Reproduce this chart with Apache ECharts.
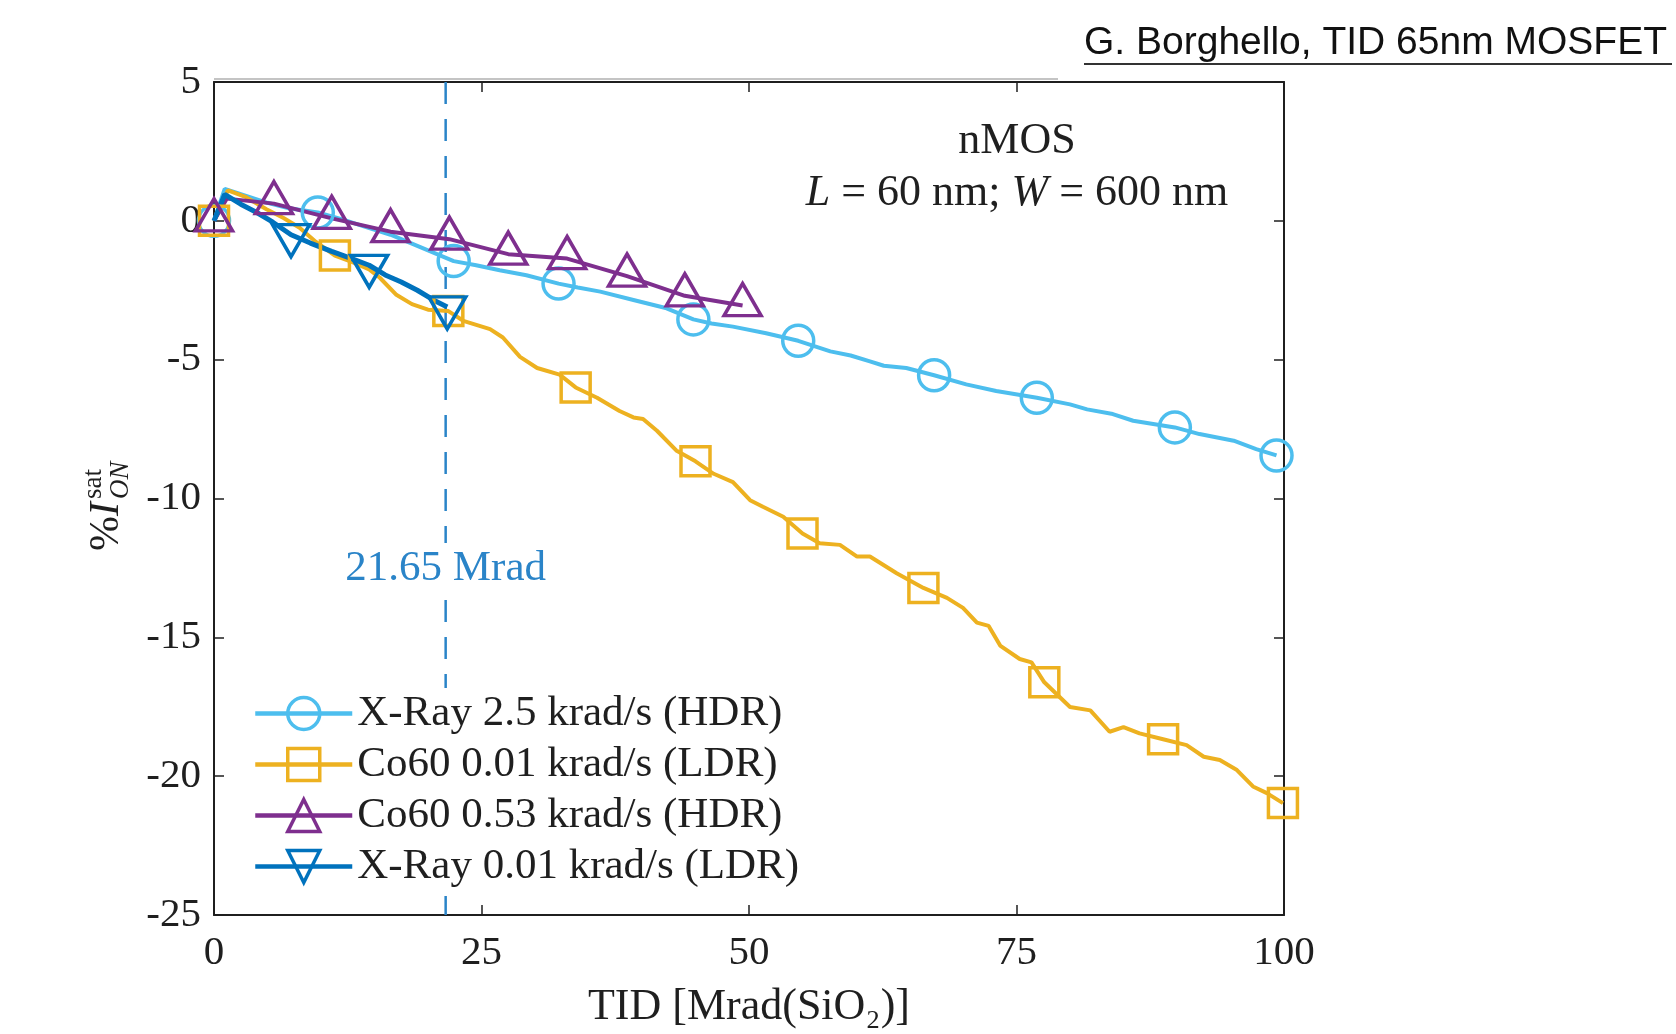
<!DOCTYPE html>
<html>
<head>
<meta charset="utf-8">
<script src="https://cdn.jsdelivr.net/npm/echarts@6/dist/echarts.min.js"></script>
<style>
html,body{margin:0;padding:0;background:#fff;}
#c{width:1676px;height:1034px;}
</style>
</head>
<body>
<div id="c"></div>
<script>
// ---------------- data ----------------
const seriesNames = [
  'X-Ray 2.5 krad/s (HDR)',
  'Co60 0.01 krad/s (LDR)',
  'Co60 0.53 krad/s (HDR)',
  'X-Ray 0.01 krad/s (LDR)'
];
const xTicks = [0, 25, 50, 75, 100];
const yTicks = [-25, -20, -15, -10, -5, 0, 5];

// X-Ray 2.5 krad/s (HDR)
const xrayHdrCurve = [[0,0],[1,1.15],[3,0.9],[5,0.65],[7,0.45],[9.7,0.3],[12,0.05],[14,-0.2],[16.5,-0.5],[19,-0.9],[22.4,-1.45],[24.5,-1.6],[26.7,-1.78],[29.2,-1.96],[32.2,-2.26],[34,-2.4],[36.1,-2.55],[39.2,-2.85],[42.3,-3.15],[44.8,-3.55],[46.5,-3.7],[48.5,-3.81],[51.6,-4.05],[54.6,-4.32],[57.6,-4.7],[59.5,-4.85],[61.3,-5.06],[62.6,-5.22],[64.7,-5.3],[67.3,-5.56],[70.3,-5.89],[73.1,-6.13],[76.9,-6.37],[80,-6.61],[81.6,-6.79],[84,-6.96],[85.9,-7.2],[89.8,-7.44],[92.1,-7.68],[95.3,-7.92],[97.4,-8.22],[99.3,-8.45]];
const xrayHdrMarkers = [[0,0],[9.7,0.3],[22.4,-1.45],[32.2,-2.26],[44.8,-3.55],[54.6,-4.32],[67.3,-5.56],[76.9,-6.37],[89.8,-7.44],[99.3,-8.45]];

// Co60 0.01 krad/s (LDR)
const co60LdrCurve = [[0,0],[1.3,1.1],[3,0.85],[4.9,0.42],[6.5,0.1],[8,-0.25],[9.5,-0.75],[11.3,-1.25],[13,-1.5],[14.5,-1.75],[15.5,-2.05],[17,-2.65],[18.5,-3.0],[20,-3.2],[21.9,-3.25],[23.3,-3.6],[25.8,-3.9],[27,-4.2],[28.6,-4.9],[30.2,-5.3],[32.3,-5.54],[33.8,-6.0],[35.8,-6.37],[37.9,-6.85],[39.2,-7.08],[40.1,-7.14],[41.4,-7.56],[43.2,-8.27],[45,-8.66],[46.7,-9.11],[48.5,-9.41],[50.1,-10.06],[51.3,-10.3],[53.2,-10.66],[55,-11.26],[56.6,-11.61],[58.5,-11.67],[60.1,-12.09],[61.3,-12.09],[63.8,-12.69],[66.3,-13.22],[68.5,-13.58],[70,-13.94],[71.3,-14.47],[72.4,-14.59],[73.5,-15.31],[75.3,-15.78],[76.4,-15.9],[77.6,-16.62],[80,-17.51],[81.9,-17.63],[83.7,-18.4],[85,-18.23],[86.5,-18.46],[88.7,-18.67],[90.9,-18.88],[92.5,-19.3],[94,-19.42],[95.6,-19.78],[97.1,-20.37],[98.4,-20.61],[99.9,-20.97]];
const co60LdrMarkers = [[0,0],[11.3,-1.25],[21.9,-3.25],[33.8,-6.0],[45,-8.66],[55,-11.26],[66.3,-13.22],[77.6,-16.62],[88.7,-18.67],[99.9,-20.97]];

// Co60 0.53 krad/s (HDR)
const co60HdrCurve = [[0,0],[1.2,0.8],[5.6,0.62],[11,0.09],[16.5,-0.39],[22,-0.66],[27.5,-1.2],[33,-1.36],[38.6,-1.99],[44,-2.7],[49.4,-3.05]];
const co60HdrMarkers = [[0,0],[5.6,0.62],[11,0.09],[16.5,-0.39],[22,-0.66],[27.5,-1.2],[33,-1.36],[38.6,-1.99],[44,-2.7],[49.4,-3.05]];

// X-Ray 0.01 krad/s (LDR)
const xrayLdrCurve = [[0,0],[1,0.95],[2.5,0.6],[4,0.3],[5.5,-0.05],[7.2,-0.5],[9,-0.8],[11,-1.1],[12.8,-1.35],[14.5,-1.6],[16,-1.95],[17.5,-2.2],[19,-2.5],[20.5,-2.85],[21.8,-3.1]];
const xrayLdrMarkers = [[7.2,-0.5],[14.5,-1.6],[21.8,-3.1]];

const doseLineX = 21.65;
const doseLabelY = -12.52;
const doseLabelText = '21.65 Mrad';

// ---------------- style ----------------
const colors = ['#4DBEEE', '#EDB120', '#7E2F8E', '#0072BD'];
const symbols = ['circle', 'rect', 'triangle', 'triangle'];
const symbolSizes = [31, 29, [37, 32], [37, 32]];
const symbolRotates = [0, 0, 0, 180];
const symbolOffsets = [[0,0],[0,0],[0,-6],[0,6]];
const lineWidths = [4, 4, 4, 5];
const curves = [xrayHdrCurve, co60LdrCurve, co60HdrCurve, xrayLdrCurve];
const markers = [xrayHdrMarkers, co60LdrMarkers, co60HdrMarkers, xrayLdrMarkers];

const serif = "'Liberation Serif', 'Times New Roman', serif";
const axisColor = '#1f1f1f';
const doseColor = '#2A84C8';

const chart = echarts.init(document.getElementById('c'), null, {renderer: 'canvas'});

const series = [];
series.push({
  type: 'line', name: '__dose', silent: true,
  data: [[doseLineX, yTicks[yTicks.length-1]], [doseLineX, yTicks[0]]],
  showSymbol: false, symbol: 'none',
  lineStyle: {color: doseColor, width: 2.5, type: [22, 15]},
  z: 1
});
for (let i = 0; i < 4; i++) {
  series.push({
    type: 'line', name: seriesNames[i], data: curves[i],
    showSymbol: false, symbol: symbols[i], symbolSize: symbolSizes[i], symbolRotate: symbolRotates[i],
    lineStyle: {color: colors[i], width: lineWidths[i]},
    itemStyle: {color: 'rgba(0,0,0,0)', borderColor: colors[i], borderWidth: 3.5},
    z: 2
  });
  series.push({
    type: 'scatter', name: seriesNames[i] + ' markers', data: markers[i], clip: false,
    symbol: symbols[i], symbolSize: symbolSizes[i], symbolRotate: symbolRotates[i], symbolOffset: symbolOffsets[i],
    itemStyle: {color: 'rgba(0,0,0,0)', borderColor: colors[i], borderWidth: 3.5, opacity: 1},
    z: 2
  });
}

const baseAxis = {
  type: 'value',
  axisLine: {show: true, onZero: false, lineStyle: {color: axisColor, width: 2}},
  axisTick: {show: true, inside: true, length: 10, lineStyle: {color: axisColor, width: 1.5}},
  splitLine: {show: false}
};

const option = {
  animation: false,
  backgroundColor: '#fff',
  grid: {left: 214, right: 392, top: 82, bottom: 113, containLabel: false},
  xAxis: [
    Object.assign({}, baseAxis, {
      position: 'bottom', min: xTicks[0], max: xTicks[xTicks.length-1], interval: xTicks[1]-xTicks[0],
      axisLabel: {show: true, margin: 18, fontFamily: serif, fontSize: 41, color: axisColor},
      name: 'TID [Mrad(SiO\u2082)]', nameLocation: 'middle', nameGap: 70,
      nameTextStyle: {fontFamily: serif, fontSize: 44, color: axisColor}
    }),
    Object.assign({}, baseAxis, {
      position: 'top', min: xTicks[0], max: xTicks[xTicks.length-1], interval: xTicks[1]-xTicks[0],
      axisLabel: {show: false}
    })
  ],
  yAxis: [
    Object.assign({}, baseAxis, {
      position: 'left', min: yTicks[0], max: yTicks[yTicks.length-1], interval: yTicks[1]-yTicks[0],
      axisLabel: {show: true, margin: 13, fontFamily: serif, fontSize: 41, color: axisColor}
    }),
    Object.assign({}, baseAxis, {
      position: 'right', min: yTicks[0], max: yTicks[yTicks.length-1], interval: yTicks[1]-yTicks[0],
      axisLabel: {show: false}
    })
  ],
  legend: {
    orient: 'vertical', left: 248, top: 688, padding: [4, 10, 4, 5],
    backgroundColor: '#fff', itemWidth: 97, itemHeight: 40, itemGap: 8,
    selectedMode: false, align: 'left',
    textStyle: {fontFamily: serif, fontSize: 43, color: axisColor},
    lineStyle: {width: 4.5},
    data: seriesNames.map((n, i) => ({
      name: n,
      itemStyle: {color: 'rgba(0,0,0,0)', borderColor: colors[i], borderWidth: 3.5}
    }))
  },
  graphic: [
    {type: 'line', silent: true, shape: {x1: 214, y1: 79, x2: 1058, y2: 79},
     style: {stroke: '#c4c4c4', lineWidth: 2}, z: -1},
    {type: 'text', x: 1084, y: 43, silent: true,
     style: {text: 'G. Borghello, TID 65nm MOSFET', fontFamily: "'Liberation Sans', Arial, sans-serif",
             fontSize: 39, fill: '#111', align: 'left', verticalAlign: 'middle'}},
    {type: 'line', silent: true, shape: {x1: 1084, y1: 64, x2: 1672, y2: 64},
     style: {stroke: '#333', lineWidth: 2}},
    {type: 'text', x: 1017, y: 141, silent: true,
     style: {text: 'nMOS', fontFamily: serif, fontSize: 44, fill: axisColor, align: 'center', verticalAlign: 'middle'}},
    {type: 'text', x: 1017, y: 193, silent: true,
     style: {text: '{i|L} = 60 nm; {i|W} = 600 nm', fontFamily: serif, fontSize: 44, fill: axisColor,
             align: 'center', verticalAlign: 'middle',
             rich: {i: {fontStyle: 'italic', fontFamily: serif, fontSize: 44, fill: axisColor}}}},
    {type: 'group', x: 107, y: 505, rotation: Math.PI / 2, silent: true,
     children: [
       {type: 'text', x: -46, y: 0, style: {text: '%', fontFamily: serif, fontSize: 42, fill: axisColor, align: 'left', verticalAlign: 'middle'}},
       {type: 'text', x: -11, y: 0, style: {text: 'I', fontFamily: serif, fontStyle: 'italic', fontSize: 42, fill: axisColor, align: 'left', verticalAlign: 'middle'}},
       {type: 'text', x: 6, y: -13, style: {text: 'sat', fontFamily: serif, fontSize: 27, fill: axisColor, align: 'left', verticalAlign: 'middle'}},
       {type: 'text', x: 6, y: 14, style: {text: 'ON', fontFamily: serif, fontStyle: 'italic', fontSize: 27, fill: axisColor, align: 'left', verticalAlign: 'middle'}}
     ]}
  ],
  series: series
};
chart.setOption(option);

// dose annotation placed through the axis scales
const p = chart.convertToPixel({gridIndex: 0}, [doseLineX, doseLabelY]);
const graphicList = option.graphic.slice();
graphicList.push({
  type: 'text', x: p[0], y: p[1], silent: true, z: 50,
  style: {text: doseLabelText, fontFamily: serif, fontSize: 43, fill: doseColor,
          align: 'center', verticalAlign: 'middle', backgroundColor: '#fff', padding: [4, 6]}
});
chart.setOption({graphic: graphicList}, {replaceMerge: ['graphic']});
</script>
</body>
</html>
